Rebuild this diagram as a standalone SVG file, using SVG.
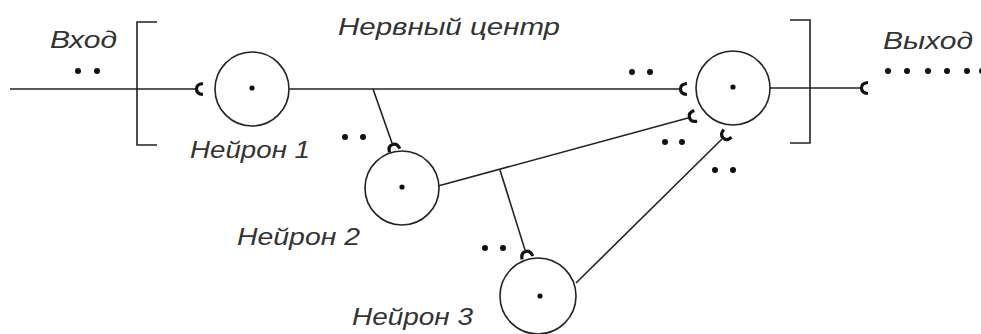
<svg xmlns="http://www.w3.org/2000/svg" width="981" height="334" viewBox="0 0 981 334">
<style>
.ln{stroke:#222;stroke-width:1.6;fill:none}
.nc{stroke:#222;stroke-width:1.6;fill:#fff}
.dt{fill:#111}
.tx{font-family:"Liberation Sans",Arial,sans-serif;font-style:italic;font-size:24px;fill:#333}
</style>
<defs>
<marker id="syn" markerUnits="userSpaceOnUse" viewBox="-3 -8 16 16" markerWidth="16" markerHeight="16" refX="0" refY="0" orient="auto">
<path d="M8,-5.5 Q1.5,-5 1.5,0 Q1.5,5 8,5.5" stroke="#111" stroke-width="3.2" fill="none"/>
</marker>
</defs>
<rect width="981" height="334" fill="#fff"/>
<g id="brackets">
<path class="ln" d="M157,22 H137 V145 H157"/>
<path class="ln" d="M790,20 H810 V143 H790"/>
</g>
<g id="connectors">
<line class="ln" x1="10" y1="89" x2="195" y2="89" marker-end="url(#syn)"/>
<line class="ln" x1="289" y1="89" x2="679" y2="89" marker-end="url(#syn)"/>
<line class="ln" x1="373" y1="89" x2="392" y2="143" marker-end="url(#syn)"/>
<line class="ln" x1="438" y1="186" x2="688" y2="118" marker-end="url(#syn)"/>
<line class="ln" x1="500" y1="170" x2="525" y2="250" marker-end="url(#syn)"/>
<line class="ln" x1="576" y1="283" x2="722" y2="139" marker-end="url(#syn)"/>
<line class="ln" x1="770" y1="88" x2="860" y2="88" marker-end="url(#syn)"/>
</g>
<g id="neuron1">
<circle class="nc" cx="252" cy="89" r="37"/>
<circle class="dt" cx="252" cy="88" r="2.6"/>
<text class="tx" x="190" y="158" textLength="120" lengthAdjust="spacingAndGlyphs">Нейрон 1</text>
</g>
<g id="neuron2">
<circle class="nc" cx="402" cy="188" r="37"/>
<circle class="dt" cx="402" cy="187" r="2.6"/>
<text class="tx" x="237" y="245" textLength="123" lengthAdjust="spacingAndGlyphs">Нейрон 2</text>
</g>
<g id="neuron3">
<circle class="nc" cx="538" cy="296" r="38"/>
<circle class="dt" cx="540" cy="296" r="2.6"/>
<text class="tx" x="352" y="325" textLength="121" lengthAdjust="spacingAndGlyphs">Нейрон 3</text>
</g>
<g id="output-neuron">
<circle class="nc" cx="733" cy="88" r="37"/>
<circle class="dt" cx="733" cy="87" r="2.6"/>
</g>
<g id="labels">
<text class="tx" x="50" y="48" textLength="67" lengthAdjust="spacingAndGlyphs">Вход</text>
<text class="tx" x="338" y="35" textLength="222" lengthAdjust="spacingAndGlyphs">Нервный центр</text>
<text class="tx" x="883" y="49" textLength="90" lengthAdjust="spacingAndGlyphs">Выход</text>
</g>
<g id="dots">
<circle class="dt" cx="78" cy="71" r="3"/><circle class="dt" cx="97" cy="71" r="3"/>
<circle class="dt" cx="345" cy="137" r="3"/><circle class="dt" cx="363" cy="137" r="3"/>
<circle class="dt" cx="632" cy="72" r="3"/><circle class="dt" cx="650" cy="72" r="3"/>
<circle class="dt" cx="485" cy="248" r="3"/><circle class="dt" cx="503" cy="248" r="3"/>
<circle class="dt" cx="665" cy="142" r="3"/><circle class="dt" cx="682" cy="142" r="3"/>
<circle class="dt" cx="715" cy="170" r="3"/><circle class="dt" cx="733" cy="170" r="3"/>
<circle class="dt" cx="888" cy="71" r="3"/><circle class="dt" cx="907" cy="71" r="3"/>
<circle class="dt" cx="928" cy="71" r="3"/><circle class="dt" cx="947" cy="71" r="3"/>
<circle class="dt" cx="967" cy="71" r="3"/><circle class="dt" cx="982" cy="71" r="3"/>
</g>
</svg>
